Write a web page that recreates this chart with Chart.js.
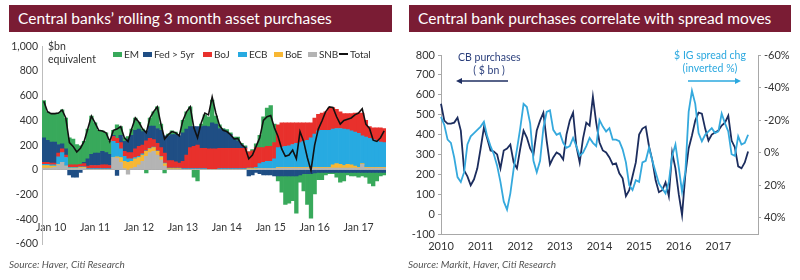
<!DOCTYPE html>
<html>
<head>
<meta charset="utf-8">
<script src="https://cdn.jsdelivr.net/npm/chart.js@4.4.0/dist/chart.umd.min.js"></script>
<style>
  html, body { margin: 0; padding: 0; background: #fff; }
  body { width: 800px; height: 280px; position: relative; overflow: hidden; font-family: Lato, "Open Sans", sans-serif; color: #333; }
  .title { position: absolute; top: 5px; height: 27px; background: #7a1c34; color: #fff; font-size: 15.5px; line-height: 27px; padding-left: 9px; box-sizing: border-box; white-space: nowrap; }
  .source { position: absolute; top: 258px; font-size: 10px; font-style: italic; color: #555; white-space: nowrap; }
  canvas { position: absolute; }
  .note { position: absolute; font-size: 10.5px; line-height: 13px; white-space: nowrap; }
  .legend-item { position: absolute; top: 48px; font-size: 10px; line-height: 12px; letter-spacing: -0.15px; white-space: nowrap; }
  .legend-item i { display: inline-block; width: 9px; height: 5px; margin-right: 2px; vertical-align: 1px; }
</style>
</head>
<body>
<div class="title" style="left:9px;width:383px;">Central banks’ rolling 3 month asset purchases</div>
<div class="title" style="left:409px;width:382px;">Central bank purchases correlate with spread moves</div>

<canvas id="leftChart" width="400" height="224" style="left:0;top:36px;"></canvas>
<canvas id="rightChart" width="400" height="224" style="left:400px;top:36px;"></canvas>

<div class="note" style="left:48px;top:40px;">$bn<br>equivalent</div>
<div id="legend"></div>

<div class="note" style="left:458px;top:51px;width:62px;text-align:center;color:#2b3f7c;">CB purchases<br>( $ bn )</div>
<div class="note" style="left:672px;top:49px;width:76px;text-align:center;color:#2ba8df;">$ IG spread chg<br>(inverted %)</div>
<svg width="800" height="280" style="position:absolute;left:0;top:0;pointer-events:none;">
  <line x1="508" y1="81" x2="461" y2="81" stroke="#1f2f62" stroke-width="1.4"/>
  <polygon points="456,81 462,78 462,84" fill="#1f2f62"/>
  <line x1="688" y1="81" x2="736" y2="81" stroke="#2ba8df" stroke-width="1.4"/>
  <polygon points="741,81 735,78 735,84" fill="#2ba8df"/>
</svg>

<div class="source" style="left:9px;">Source: Haver, Citi Research</div>
<div class="source" style="left:408px;">Source: Markit, Haver, Citi Research</div>

<script>
// ---- data (monthly) ----
const MONTH_NAMES = ['Jan', 'Feb', 'Mar', 'Apr', 'May', 'Jun', 'Jul', 'Aug', 'Sep', 'Oct', 'Nov', 'Dec'];
const rightYearTicks = ['2010', '2011', '2012', '2013', '2014', '2015', '2016', '2017'];

// total rolling 3m purchases, $bn (also the "CB purchases" line on the right)
const totalPurchases = [
  555, 470, 455, 455, 460, 485, 420, 220, 190, 145, 175, 230,
  330, 435, 380, 320, 315, 300, 230, 320, 330, 350, 260, 230,
  330, 420, 385, 330, 300, 420, 470, 510, 370, 250, 285, 310,
  300, 275, 400, 470, 510, 340, 260, 380, 460, 445, 590, 460,
  360, 320, 310, 285, 250, 255, 205, 180, 90, 120, 190, 260,
  400, 430, 440, 340, 270, 170, 110, 120, 160, 90, 310, 230,
  100, -5, 200, 330, 395, 470, 510, 505, 430, 370, 400, 410,
  420, 445, 460, 495, 370, 335, 240, 230, 260, 315
];

const snb = [
  15, 15, 15, 20, 40, 60, 30, 10, 10, 10, 15, 15,
  5, 5, 5, 5, 5, 5, 5, 100, 95, 60, 10, -35,
  10, 20, 40, 70, 110, 140, 150, 120, 80, 30, 5, 5,
  5, 5, 5, 5, 5, 5, 5, 5, 5, 5, 5, 5,
  5, 5, 5, 5, 5, 5, 5, 5, 5, 5, 5, 10,
  10, 10, 10, 10, 15, 15, 15, 15, 15, 15, 15, 15,
  15, 15, 15, 15, 15, 15, 15, 15, 15, 15, 15, 15,
  15, 15, 15, 45, 15, 15, 15, 15, 15, 15
];

const boe = [
  20, 20, 15, 10, 5, 0, 0, 5, 5, 5, 5, 5,
  0, 0, 0, 0, 0, 0, 0, 0, 10, 40, 60, 60,
  60, 70, 60, 50, 40, 30, 30, 30, 25, 20, 5, 5,
  5, 5, 0, 0, 0, 0, 0, 0, 0, 0, 0, 0,
  0, 0, 0, 0, 0, 0, 0, 0, 5, 5, 5, 0,
  0, 0, 0, 0, 5, 5, 5, 5, 5, 5, 5, 5,
  5, 5, 5, 5, 5, 5, 5, 25, 35, 30, 20, 30,
  25, 15, 5, 5, 5, 5, 5, 5, 5, 5
];

const ecb = [
  10, 10, 10, 10, 60, 80, 70, 5, 5, 5, 5, 5,
  5, 5, 5, 5, 5, 5, 5, 130, 110, 70, 40, 30,
  20, 10, 10, 10, 5, 5, 5, 5, 5, 5, 5, 5,
  5, 5, 5, 5, 5, 5, 5, 5, 5, 0, 0, 0,
  5, 5, 5, 5, 5, 5, 5, 5, 5, 5, 10, 40,
  50, 60, 60, 80, 160, 165, 170, 175, 185, 195, 200, 210,
  220, 240, 270, 295, 300, 300, 300, 290, 285, 290, 295, 280,
  275, 275, 275, 225, 245, 235, 225, 215, 205, 200
];

const boj = [
  15, 15, 15, 15, 30, 30, 20, 20, 20, 20, 20, 25,
  20, 25, 25, 25, 30, 30, 25, 40, 40, 50, 40, 50,
  50, 70, 80, 70, 80, 80, 60, 60, 70, 80, 60, 60,
  50, 40, 60, 110, 170, 180, 190, 165, 165, 165, 165, 165,
  165, 165, 165, 165, 165, 165, 165, 165, 130, 140, 160, 130,
  120, 120, 120, 130, 185, 195, 190, 185, 175, 165, 160, 150,
  140, 120, 130, 135, 140, 150, 180, 175, 155, 135, 125, 130,
  140, 155, 165, 185, 135, 95, 95, 105, 115, 115
];

const fed = [
  200, 180, 170, 170, 70, 40, 50, -40, -60, -60, -20, 10,
  60, 90, 100, 100, 110, 100, 90, 10, -45, 60, 80, 110,
  140, 150, 140, 110, 80, 100, 110, 120, 140, 140, 200, 210,
  220, 220, 230, 210, 170, 160, 150, 175, 180, 180, 210, 200,
  160, 150, 130, 110, 80, 60, 30, 10, -50, -40, -20, -30,
  -40, -40, -40, -50, -50, -50, -50, -50, -50, -50, -40, -30,
  -30, -30, -25, -20, -20, -20, -20, -20, -20, -20, -20, -20,
  -20, -20, -20, -20, -20, -20, -20, -20, -20, -20
];

const em = [
  300, 230, 230, 230, 255, 275, 250, 220, 210, 165, 150, 170,
  240, 310, 245, 185, 165, 160, 105, 40, 110, 70, 30, 20,
  50, 100, 55, 20, -25, 65, 115, 175, 50, -25, 15, 30,
  20, 0, 100, 140, 160, -60, -90, 20, 90, 80, 185, 65,
  30, 10, 20, 15, 10, 30, 10, 10, 0, 10, 30, 100,
  250, 310, 330, 150, -40, -130, -230, -220, -200, -300, -60, -140,
  -250, -360, -170, -60, -60, -20, -10, -10, -40, -80, -70, -20,
  -30, -30, -40, -30, -40, -90, -110, -70, -30, -20
];

// $ IG spread change, % (plotted on an inverted axis)
const igSpreadChg = [
  -22, -17, -8, -6, 3, 15, 18, 12, -5, -10, -12, -14,
  -16, -19, -10, -4, 1, 8, 18, 30, 35, 25, 10, -2,
  -15, -30, -28, -18, 5, 12, 5, -15, -25, -26, -14, -11,
  -12, -6, -3, -4, -9, -4, 2, 0, -4, -9, -6, -4,
  -20, -16, -13, -15, -8, -8, -7, -2, 6, 20, 23, 17,
  18, 6, 5, -3, 5, 12, 19, 22, 25, 18, 2, -5,
  9, 24, 12, -25, -38, -30, -12, -7, -11, -13, -15, -12,
  -13, -24, -18, -13, 1, 2, -10, -5, -6, -11
];

const COLORS = {
  em: '#38a95b', fed: '#1f4e84', boj: '#e8302c', ecb: '#27aae1',
  boe: '#f8b733', snb: '#b4b4b4', total: '#111111',
  cb: '#1c2d5e', spread: '#35a9dd', axis: '#a8a8a8', text: '#333333'
};

function monthLabels(year, month, count) {
  const out = [];
  for (let i = 0; i < count; i++) {
    const m = (month + i) % 12;
    const y = year + Math.floor((month + i) / 12);
    out.push(MONTH_NAMES[m] + ' ' + String(y % 100).padStart(2, '0'));
  }
  return out;
}

const leftMonths = monthLabels(2009, 10, totalPurchases.length);   // Nov 09 .. Aug 17
const rightMonths = monthLabels(2010, 0, 97);                      // Jan 10 .. Jan 18 (axis runs a little past the data)

// ---- legend (left panel) ----
const legendItems = [
  { label: 'EM', color: COLORS.em, x: 113 },
  { label: 'Fed > 5yr', color: COLORS.fed, x: 143 },
  { label: 'BoJ', color: COLORS.boj, x: 203 },
  { label: 'ECB', color: COLORS.ecb, x: 238 },
  { label: 'BoE', color: COLORS.boe, x: 274 },
  { label: 'SNB', color: COLORS.snb, x: 308 },
  { label: 'Total', color: COLORS.total, x: 339, line: true }
];
document.getElementById('legend').innerHTML = legendItems.map(item => {
  const swatch = item.line
    ? `<i style="background:${item.color};height:2px;vertical-align:3px;"></i>`
    : `<i style="background:${item.color};"></i>`;
  return `<span class="legend-item" style="left:${item.x}px;">${swatch}${item.label}</span>`;
}).join('');

const tickFont = { family: 'Lato', size: 10.5 };

// ---- left chart: stacked purchases ----
function barSet(label, data, color) {
  return { label, data, backgroundColor: color, borderWidth: 0, order: 1 };
}

new Chart(document.getElementById('leftChart'), {
  type: 'bar',
  data: {
    labels: leftMonths,
    datasets: [
      barSet('SNB', snb, COLORS.snb),
      barSet('BoE', boe, COLORS.boe),
      barSet('ECB', ecb, COLORS.ecb),
      barSet('BoJ', boj, COLORS.boj),
      barSet('Fed > 5yr', fed, COLORS.fed),
      barSet('EM', em, COLORS.em),
      {
        type: 'line', label: 'Total', data: totalPurchases, order: 0,
        borderColor: COLORS.total, borderWidth: 1.6, pointRadius: 0, tension: 0
      }
    ]
  },
  options: {
    responsive: false,
    animation: false,
    layout: { padding: { top: 9, right: 14, bottom: 16, left: 0 } },
    datasets: { bar: { barPercentage: 1, categoryPercentage: 1 } },
    plugins: { legend: { display: false }, tooltip: { enabled: false } },
    scales: {
      x: {
        stacked: true,
        position: { y: -390 },
        grid: { display: false, drawTicks: false },
        border: { display: false },
        ticks: {
          autoSkip: false, maxRotation: 0, padding: 3, color: COLORS.text, font: tickFont,
          callback(value) {
            const label = this.getLabelForValue(value);
            return label.startsWith('Jan') ? label : '';
          }
        },
        afterFit(scale) { scale.height = 0; }
      },
      y: {
        stacked: true,
        min: -600, max: 1000,
        ticks: {
          stepSize: 200, padding: 4, color: COLORS.text, font: tickFont,
          callback: v => v.toLocaleString('en-US')
        },
        grid: {
          drawTicks: false,
          color: ctx => ctx.tick && ctx.tick.value === 0 ? '#9c9c9c' : 'rgba(0,0,0,0)'
        },
        border: { color: '#bdbdbd' },
        afterFit(scale) { scale.width = 42; }
      }
    }
  }
});

// ---- right chart: purchases vs spread change ----
new Chart(document.getElementById('rightChart'), {
  type: 'line',
  data: {
    labels: rightMonths,
    datasets: [
      {
        label: '$ IG spread chg (inverted %)', data: igSpreadChg, yAxisID: 'y1',
        borderColor: COLORS.spread, borderWidth: 1.8, pointRadius: 0, tension: 0
      },
      {
        label: 'CB purchases ($ bn)', data: totalPurchases, yAxisID: 'y',
        borderColor: COLORS.cb, borderWidth: 1.8, pointRadius: 0, tension: 0
      }
    ]
  },
  options: {
    responsive: false,
    animation: false,
    layout: { padding: { top: 19, right: 0, bottom: 0, left: 0 } },
    plugins: { legend: { display: false }, tooltip: { enabled: false } },
    scales: {
      x: {
        grid: { display: false, drawTicks: false },
        border: { color: COLORS.axis },
        ticks: {
          autoSkip: false, maxRotation: 0, padding: 6, color: COLORS.text, font: { family: 'Lato', size: 11 },
          callback(value) {
            const label = this.getLabelForValue(value);
            const year = '20' + label.slice(4);
            return label.startsWith('Jan') && rightYearTicks.includes(year) ? year : '';
          }
        },
        afterFit(scale) { scale.height = 26; }
      },
      y: {
        position: 'left',
        min: -100, max: 800,
        ticks: { stepSize: 100, padding: 3, color: COLORS.text, font: { family: 'Lato', size: 11 } },
        grid: { drawOnChartArea: false, tickLength: 3, color: COLORS.axis },
        border: { color: COLORS.axis },
        afterFit(scale) { scale.width = 41; }
      },
      y1: {
        position: 'right',
        min: -60, max: 50,
        reverse: true,
        ticks: {
          stepSize: 20, padding: 3, color: COLORS.text, font: { family: 'Lato', size: 11 },
          callback: v => v + '%'
        },
        afterBuildTicks(scale) { scale.ticks = scale.ticks.filter(t => t.value % 20 === 0); },
        grid: { drawOnChartArea: false, tickLength: 3, color: COLORS.axis },
        border: { color: COLORS.axis },
        afterFit(scale) { scale.width = 42; }
      }
    }
  }
});
</script>
</body>
</html>
